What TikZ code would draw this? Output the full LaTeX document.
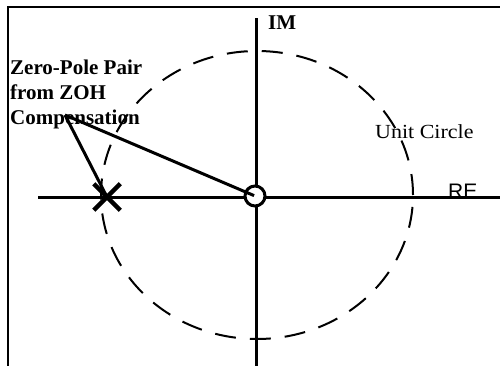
\documentclass[tikz,border=0pt]{standalone}
\usepackage{fontspec}
\setmainfont{Liberation Serif}
\setsansfont{Liberation Sans}
\usetikzlibrary{shapes.misc}
\begin{document}
\begin{tikzpicture}[x=1pt,y=-1pt,
  frameline/.style={line width=2.5pt},
  axisline/.style={line width=3pt},
  unitcirc/.style={line width=2pt, dash pattern=on 21pt off 14pt},
  pointer/.style={line width=3pt},
  lbl/.style={inner sep=0pt, anchor=base west},
  boldlbl/.style={lbl, font=\fontsize{21}{25}\selectfont\bfseries},
]
\useasboundingbox (0,0) rectangle (500,366);
% frame
\draw[frameline] (8,366) -- (8,7) -- (500,7);
% axes
\coordinate (reL) at (38,197);
\coordinate (reR) at (500,197);
\coordinate (imT) at (256,18);
\coordinate (imB) at (256,366);
\draw[axisline] (reL) -- (reR);
\draw[axisline] (imB) -- (imT);
% unit circle
\draw[unitcirc] (257,195) ellipse [x radius=156pt, y radius=144pt];
% zero and pole
\node[draw, circle, line width=3pt, minimum size=20pt, inner sep=0pt, fill=white] (zero) at (255,196) {};
\node[draw, cross out, line width=4.5pt, minimum size=22pt, inner sep=0pt] (pole) at (107,197) {};
% labels
\node[boldlbl, align=left] (zp) at (10,125) {Zero-Pole Pair\\from ZOH\\Compensation};
\node[boldlbl] (im) at (268,30) {IM};
\node[lbl, font=\fontsize{20}{24}\selectfont] (uc) at (375,139) {\scalebox{1.1}[1]{Unit Circle}};
\node[lbl, font=\fontsize{21}{24}\selectfont\sffamily] (re) at (448,198) {RE};
% pointers
\coordinate (p) at (65,115);
\draw[pointer] (p) -- (pole.center);
\draw[pointer, shorten >=1pt] (p) -- (zero.center);
\end{tikzpicture}
\end{document}
